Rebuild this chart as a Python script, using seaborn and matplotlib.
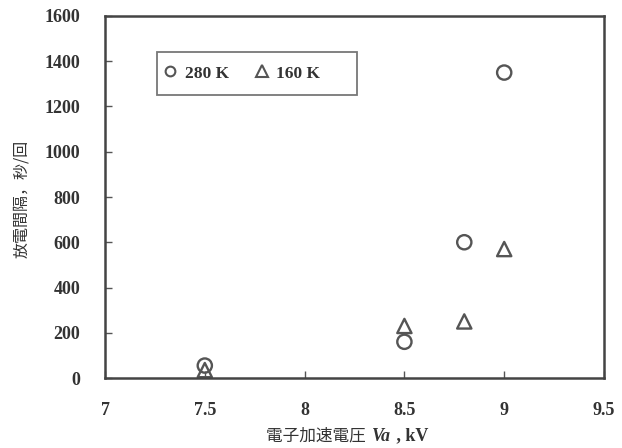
import matplotlib
matplotlib.use("Agg")
import matplotlib.pyplot as plt
import seaborn as sns
import pandas as pd
from matplotlib.lines import Line2D
from matplotlib.patches import Rectangle

# Discharge interval vs. electron acceleration voltage
voltage_280k = [7.5, 8.5, 8.8, 9.0]
interval_280k = [55, 160, 600, 1350]
voltage_160k = [7.5, 8.5, 8.8, 9.0]
interval_160k = [35, 230, 250, 570]
series_labels = ["280 K", "160 K"]

x_ticks = [7, 7.5, 8, 8.5, 9, 9.5]
x_tick_labels = ["7", "7.5", "8", "8.5", "9", "9.5"]
y_ticks = [0, 200, 400, 600, 800, 1000, 1200, 1400, 1600]

df = pd.DataFrame({
    "Va": voltage_280k + voltage_160k,
    "interval": interval_280k + interval_160k,
    "temp": [series_labels[0]] * len(voltage_280k) + [series_labels[1]] * len(voltage_160k),
})

sns.set_theme(style="white")
plt.rcParams["font.family"] = ["Liberation Serif", "Noto Sans CJK JP"]

W, H = 622, 448
AX_L, AX_R, AX_T, AX_B = 105, 604, 16, 378
fig = plt.figure(figsize=(W / 100, H / 100), dpi=100)
ax = fig.add_axes([AX_L / W, 1 - AX_B / H, (AX_R - AX_L) / W, (AX_B - AX_T) / H])


def px_to_axes(x, y):
    return (x - AX_L) / (AX_R - AX_L), (AX_B - y) / (AX_B - AX_T)


MARK = "#555555"
sns.scatterplot(
    data=df, x="Va", y="interval", style="temp", hue="temp",
    markers={"280 K": "o", "160 K": "^"},
    palette={"280 K": MARK, "160 K": MARK},
    s=105, ax=ax, legend=False,
)
# open markers
for coll in ax.collections:
    coll.set_facecolor("none")
    coll.set_edgecolor(MARK)
    coll.set_linewidth(1.7)

ax.set_xlim(7, 9.5)
ax.set_ylim(0, 1600)
ax.set_xticks(x_ticks)
ax.set_xticklabels(x_tick_labels)
ax.set_yticks(y_ticks)

for side in ["left", "bottom", "top", "right"]:
    ax.spines[side].set_visible(True)
    ax.spines[side].set_color("#444444")
    ax.spines[side].set_linewidth(1.8)

ax.tick_params(axis="both", which="major", direction="in", length=5, width=1,
               color="#555555", labelsize=13, labelcolor="#333333",
               bottom=True, left=True, top=False, right=False)
ax.tick_params(axis="y", pad=18)
ax.tick_params(axis="x", pad=17)
for lab in ax.get_xticklabels() + ax.get_yticklabels():
    lab.set_fontweight("bold")

ax.set_xlabel("")
ax.set_ylabel("")
fig.text(22 / W, 1 - 199 / H, "放電間隔，秒/回", rotation=90, ha="center", va="center",
         fontsize=11.5, color="#333333", family=["Noto Sans CJK JP", "DejaVu Sans"])

# x-axis label built from pieces so that "Va" can be bold italic
renderer = fig.canvas.get_renderer()
pieces = [
    ("電子加速電圧 ", dict(family=["Noto Sans CJK JP", "DejaVu Sans"], fontsize=12)),
    ("Va", dict(family="Liberation Serif", fontsize=13, fontweight="bold", fontstyle="italic")),
    (" , kV", dict(family="Liberation Serif", fontsize=13, fontweight="bold")),
]
x_px = 266
for txt, kw in pieces:
    t = fig.text(x_px / W, 1 - 436 / H, txt, ha="left", va="center", color="#333333", **kw)
    bb = t.get_window_extent(renderer=renderer)
    x_px += bb.width + 2

# legend: entries without frame, box drawn separately
handles = [
    Line2D([], [], linestyle="none", marker="o", markersize=7, markerfacecolor="none",
           markeredgecolor=MARK, markeredgewidth=1.5),
    Line2D([], [], linestyle="none", marker="^", markersize=9, markerfacecolor="none",
           markeredgecolor=MARK, markeredgewidth=1.5),
]
leg = ax.legend(handles, series_labels, ncol=2, loc="center left",
                bbox_to_anchor=px_to_axes(163.5, 73.5),
                borderaxespad=0, borderpad=0, frameon=False,
                handlelength=0.8, handletextpad=0.43, columnspacing=1.5,
                prop={"family": "Liberation Serif", "weight": "bold", "size": 12.5})
for t in leg.get_texts():
    t.set_color("#333333")

x0, y1 = px_to_axes(157, 95)
x1, y0 = px_to_axes(357, 52)
ax.add_patch(Rectangle((x0, y1), x1 - x0, y0 - y1, transform=ax.transAxes,
                       fill=False, edgecolor="#777777", linewidth=1.3, zorder=5))

fig.savefig("out.png", dpi=100)
